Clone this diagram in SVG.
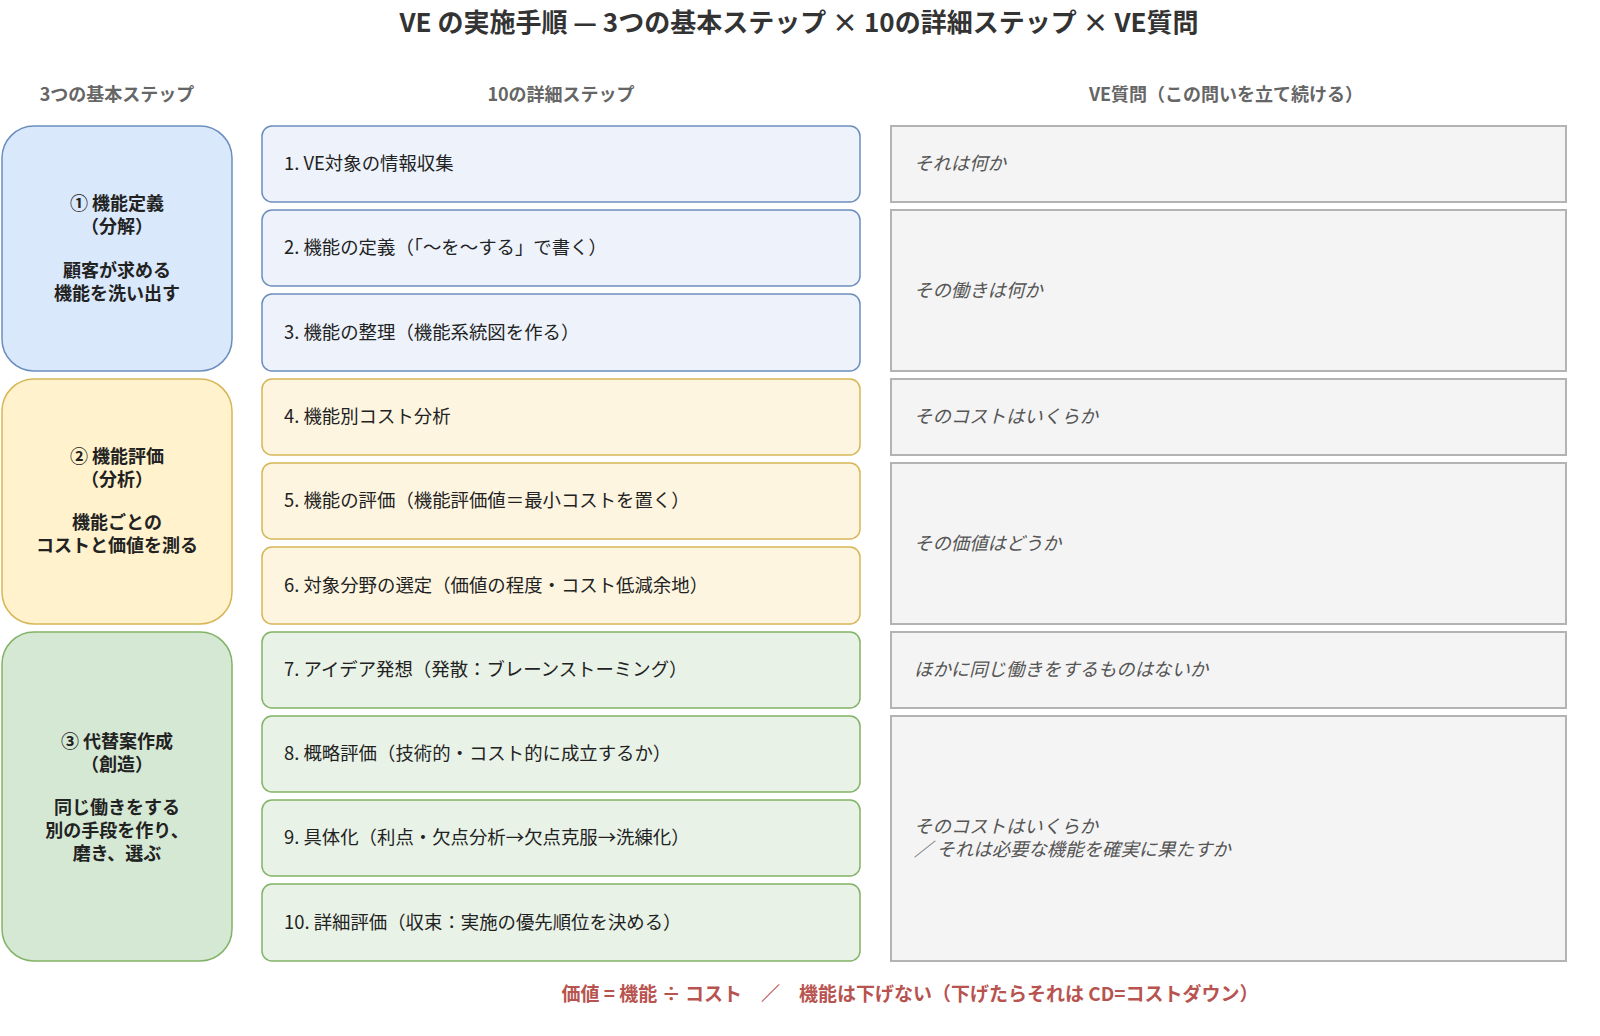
<svg xmlns="http://www.w3.org/2000/svg" width="1600" height="1036" viewBox="0 0 1600 1036">
<style>
text{font-family:"Noto Sans CJK JP","Noto Sans",sans-serif;}
.title{font-size:26px;font-weight:bold;fill:#333;text-anchor:middle;}
.hdr{font-size:18px;font-weight:bold;fill:#666;text-anchor:middle;}
.big{font-size:18px;font-weight:bold;fill:#222;text-anchor:middle;}
.step{font-size:18.4px;fill:#222;}
.q{font-size:18.4px;fill:#555;font-style:italic;}
.note{font-size:19px;font-weight:bold;fill:#b85450;text-anchor:middle;}
.b1{fill:#dae8fc;stroke:#6c8ebf;stroke-width:1.5;}
.b2{fill:#fff2cc;stroke:#d6b656;stroke-width:1.5;}
.b3{fill:#d5e8d4;stroke:#82b366;stroke-width:1.5;}
.s1{fill:#edf2fb;stroke:#6c8ebf;stroke-width:1.5;}
.s2{fill:#fdf5e0;stroke:#d6b656;stroke-width:1.5;}
.s3{fill:#e8f2e7;stroke:#82b366;stroke-width:1.5;}
.qb{fill:#f4f4f4;stroke:#b3b3b3;stroke-width:2;}
</style>
<rect width="1600" height="1036" fill="#ffffff"/>
<text class="title" x="799" y="32">VE の実施手順 — 3つの基本ステップ × 10の詳細ステップ × VE質問</text>
<text class="hdr" x="117" y="101">3つの基本ステップ</text>
<text class="hdr" x="561" y="101">10の詳細ステップ</text>
<text class="hdr" x="1226" y="101">VE質問（この問いを立て続ける）</text>

<g id="basic1"><rect class="b1" x="2" y="126" width="230" height="245" rx="32"/>
<text class="big" x="117" y="210">① 機能定義</text><text class="big" x="117" y="233">（分解）</text>
<text class="big" x="117" y="277">顧客が求める</text><text class="big" x="117" y="300">機能を洗い出す</text></g>
<g id="basic2"><rect class="b2" x="2" y="379" width="230" height="245" rx="32"/>
<text class="big" x="117" y="463">② 機能評価</text><text class="big" x="117" y="486">（分析）</text>
<text class="big" x="117" y="529">機能ごとの</text><text class="big" x="117" y="552">コストと価値を測る</text></g>
<g id="basic3"><rect class="b3" x="2" y="632" width="230" height="329" rx="32"/>
<text class="big" x="117" y="748">③ 代替案作成</text><text class="big" x="117" y="771">（創造）</text>
<text class="big" x="117" y="814">同じ働きをする</text><text class="big" x="117" y="837">別の手段を作り、</text><text class="big" x="117" y="860">磨き、選ぶ</text></g>

<g id="step1"><rect class="s1" x="262" y="126" width="598" height="76" rx="10"/><text class="step" x="284" y="170">1. VE対象の情報収集</text></g>
<g id="step2"><rect class="s1" x="262" y="210" width="598" height="76" rx="10"/><text class="step" x="284" y="254">2. 機能の定義（「〜を〜する」で書く）</text></g>
<g id="step3"><rect class="s1" x="262" y="294" width="598" height="77" rx="10"/><text class="step" x="284" y="339">3. 機能の整理（機能系統図を作る）</text></g>
<g id="step4"><rect class="s2" x="262" y="379" width="598" height="76" rx="10"/><text class="step" x="284" y="423">4. 機能別コスト分析</text></g>
<g id="step5"><rect class="s2" x="262" y="463" width="598" height="76" rx="10"/><text class="step" x="284" y="507">5. 機能の評価（機能評価値＝最小コストを置く）</text></g>
<g id="step6"><rect class="s2" x="262" y="547" width="598" height="77" rx="10"/><text class="step" x="284" y="592">6. 対象分野の選定（価値の程度・コスト低減余地）</text></g>
<g id="step7"><rect class="s3" x="262" y="632" width="598" height="76" rx="10"/><text class="step" x="284" y="676">7. アイデア発想（発散：ブレーンストーミング）</text></g>
<g id="step8"><rect class="s3" x="262" y="716" width="598" height="76" rx="10"/><text class="step" x="284" y="760">8. 概略評価（技術的・コスト的に成立するか）</text></g>
<g id="step9"><rect class="s3" x="262" y="800" width="598" height="76" rx="10"/><text class="step" x="284" y="844">9. 具体化（利点・欠点分析→欠点克服→洗練化）</text></g>
<g id="step10"><rect class="s3" x="262" y="884" width="598" height="77" rx="10"/><text class="step" x="284" y="929">10. 詳細評価（収束：実施の優先順位を決める）</text></g>

<g id="q1"><rect class="qb" x="891" y="126" width="675" height="76"/><text class="q" x="914" y="170">それは何か</text></g>
<g id="q2"><rect class="qb" x="891" y="210" width="675" height="161"/><text class="q" x="914" y="297">その働きは何か</text></g>
<g id="q3"><rect class="qb" x="891" y="379" width="675" height="76"/><text class="q" x="914" y="423">そのコストはいくらか</text></g>
<g id="q4"><rect class="qb" x="891" y="463" width="675" height="161"/><text class="q" x="914" y="550">その価値はどうか</text></g>
<g id="q5"><rect class="qb" x="891" y="632" width="675" height="76"/><text class="q" x="914" y="676">ほかに同じ働きをするものはないか</text></g>
<g id="q6"><rect class="qb" x="891" y="716" width="675" height="245"/><text class="q" x="914" y="833">そのコストはいくらか</text><text class="q" x="914" y="856">／ それは必要な機能を確実に果たすか</text></g>

<g id="connectors"></g>
<text class="note" x="910" y="1001">価値 = 機能 ÷ コスト　／　機能は下げない（下げたらそれは CD=コストダウン）</text>
</svg>
